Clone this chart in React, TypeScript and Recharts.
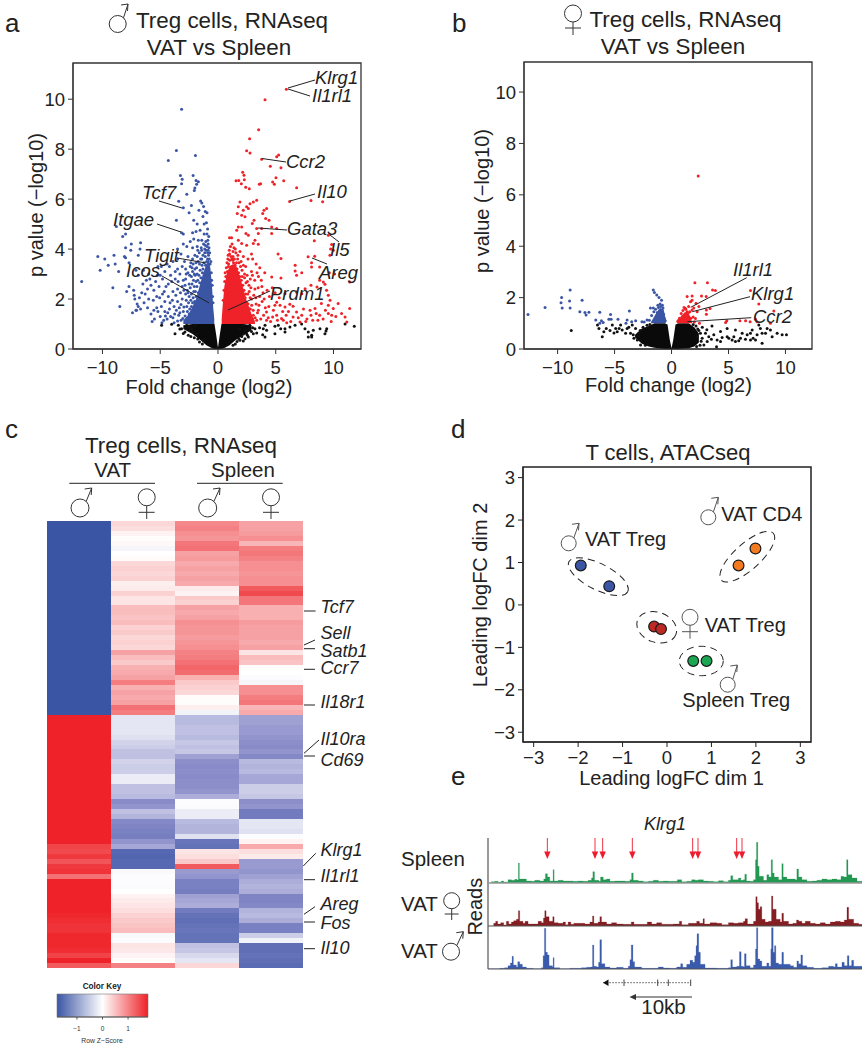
import React from "react";
import {
  Area,
  AreaChart,
  Bar,
  BarChart,
  Cell,
  ComposedChart,
  ReferenceArea,
  Scatter,
  ScatterChart,
  XAxis,
  YAxis,
} from "recharts";

type P = [number, number];

// panel a
const aBlue: P[] = [
  [-3.15,9.6],[-3.6,7.95],[-1.95,7.75],[-4.3,7.55],[-3.25,6.95],[-2.15,6.95],[-3.1,6.8],[-3.15,6.62],[-1.9,6.75],[-1.7,6.7],[-1.85,6.6],[-2.0,6.45],[-2.7,6.2],[-2.05,6.35],[-3.4,5.92],[-1.5,5.93],[-3.0,5.65],[-1.4,5.85],[-1.25,5.7],[-2.3,5.75],[-2.5,5.45],[-1.65,5.55],[-1.1,5.5],[-1.3,5.3],[-0.95,5.45],[-2.1,5.15],[-3.6,5.15],[-1.8,5.0],[-1.2,5.0],[-1.0,5.05],[-0.9,4.8],[-3.15,4.65],[-3.0,4.6],[-2.2,4.65],[-1.9,4.7],[-1.55,4.75],[-1.2,4.6],[-0.95,4.6],[-0.8,4.5],[-2.1,4.4],[-2.4,4.3],[-1.7,4.35],[-1.4,4.35],[-1.05,4.3],[-0.85,4.2],[-3.5,4.0],[-3.0,4.2],[-2.7,4.1],[-2.2,4.05],[-1.8,4.1],[-1.45,4.05],[-1.15,4.0],[-0.85,3.95],
  [-11.8,2.7],[-10.4,3.7],[-9.8,3.6],[-10.2,3.15],[-9.5,3.35],[-9.0,3.75],[-8.9,3.4],[-9.1,2.45],[-8.6,3.1],[-8.5,1.7],[-8.8,4.9],[-8.25,4.5],[-8.0,4.6],[-8.0,4.05],[-7.5,4.2],[-8.1,3.7],[-7.55,3.95],[-8.0,3.65],[-7.7,3.45],[-6.9,3.75],[-6.7,4.25],[-6.75,4.0],[-7.9,2.3],[-7.7,2.5],[-7.3,2.35],[-7.25,2.15],[-7.1,1.55],[-6.9,1.7],[-6.8,2.05],
  [-6.0,3.0],[-6.2,2.75],[-6.5,2.6],[-6.9,2.95],[-6.1,2.4],[-5.8,2.55],[-5.4,2.7],[-5.1,2.5],[-5.0,2.95],[-4.6,3.1],[-4.2,3.3],[-3.9,3.5],[-3.5,3.6],[-3.2,3.8],[-2.9,3.5],[-2.6,3.7],[-2.4,3.3],[-2.2,3.6],[-2.0,3.2],[-1.8,3.7],[-3.3,3.0],[-3.7,2.8],[-4.0,2.7],[-4.5,2.5],[-4.8,2.2],[-5.3,2.1],[-5.6,1.95],[-6.0,2.0],[-6.4,1.85],[-6.7,1.6],[-7.0,1.8],[-7.2,2.0],[-7.4,1.45],[-7.05,1.55],[-5.7,1.1],[-5.5,1.2],[-5.2,1.5],[-4.9,1.7],[-4.6,1.9],[-4.3,2.1],[-3.9,2.3],[-3.5,2.4],[-3.1,2.5],[-2.8,2.8],[-2.5,2.6],[-2.3,2.9],[-4.6,1.5],[-4.2,1.6],[-3.8,1.7],[-3.5,1.9],[-3.1,2.0],[-2.8,2.2],[-2.5,2.1],[-3.9,1.25],[-3.4,1.35],[-3.0,1.5],[-2.7,1.7],[-2.5,1.4],[-3.2,1.15],[-4.4,1.2],[-2.3,1.7],[-2.1,2.3],[-1.9,2.7],[-2.1,1.2],[-1.8,3.0],[-1.6,3.4],[-1.4,3.6],[-1.1,3.7],[-0.9,3.6],[-1.3,3.2],[-2.8,3.2],[-2.2,3.1],[-3.5,3.2],[-4.4,3.4],[-4.8,2.8],[-6.6,2.25],[-5.2,3.3],
  [-3.8,1.05],[-3.5,1.12],[-3.3,1.45],[-3.05,1.22],[-2.95,1.68],[-2.85,1.32],[-2.75,1.95],[-2.65,1.5],[-2.6,2.25],[-2.55,1.85],[-2.45,1.6],[-2.4,2.45],[-2.35,1.95],[-2.3,2.2],[-2.25,2.6],[-2.2,1.85],[-2.15,2.05],[-2.12,2.75],[-2.05,2.5],[-2.02,1.9],[-1.98,2.95],[-1.95,2.3],[-1.9,2.1],[-1.85,3.25],[-1.82,2.5],[-1.75,2.75],[-1.72,3.5],[-1.7,2.25],[-1.65,2.95],[-1.62,3.85],[-1.58,2.65],[-1.55,3.15],[-1.5,3.6],[-1.48,2.85],[-1.42,3.95],[-1.38,3.35],[-1.35,3.05],[-1.3,3.75],[-1.25,4.2],[-1.22,3.45],[-1.18,2.95],[-1.15,3.85],[-1.1,4.15],[-1.08,3.35],[-1.02,3.95],[-0.98,3.5],[-0.95,4.1],[-0.9,3.85],[-0.88,4.35],[-0.82,3.75],[-0.78,4.05],[-0.75,3.6],[-0.72,3.85],[-0.68,3.4],[-0.62,3.5],[-0.58,3.05],[-0.55,2.75],[-0.5,2.55],[-0.47,2.1],[-0.43,1.85],
  [-4.7,1.15],[-4.55,1.32],[-4.35,1.45],[-4.15,1.85],[-4.1,1.3],[-3.95,1.95],[-3.75,1.4],[-3.65,2.15],[-3.6,1.55],[-3.45,2.7],[-3.35,1.65],[-3.25,2.25],[-3.2,1.78],[-3.0,2.75],[-2.95,2.35],[-2.85,2.55],[-2.75,3.0],[-2.65,2.35],[-2.6,3.05],[-2.45,2.95],[-2.35,3.45],[-2.25,3.25],[-2.15,3.4],[-2.0,3.75],[-1.9,3.45],[-1.75,3.95],[-2.05,3.0],[-3.1,3.3],[-3.7,3.1],[-4.1,2.95],[-4.3,2.6],[-4.65,2.3],[-5.05,2.05],[-5.3,1.65],[-5.55,1.55],[-5.8,1.4],[-5.0,1.3],[-4.85,1.05],[-6.1,1.65],[-6.3,2.2],[-5.55,2.35],[-5.9,2.8],[-5.25,2.95],[-4.9,3.3],[-6.45,3.15],[-7.1,3.15],
];
const aRed: P[] = [
  [5.92,10.4],[4.07,9.98],[3.52,8.78],[2.74,8.42],[2.48,7.94],[2.77,7.85],[3.78,7.6],[5.25,7.77],[5.08,7.7],[5.45,7.26],[4.53,7.32],[5.02,6.86],[5.69,6.74],[4.73,6.69],[4.88,6.6],[6.81,6.46],[2.14,7.08],[2.25,6.96],[1.56,6.74],[1.8,6.75],[2.28,6.78],[2.02,6.62],[2.4,6.48],[2.71,6.42],[3.58,6.6],[3.69,6.62],[6.2,5.91],[8.05,5.95],[9.06,5.9],[3.35,5.96],[3.06,5.89],[2.77,5.82],[2.48,5.69],[2.19,5.55],[1.9,5.89],[1.76,5.69],[1.67,5.42],[2.05,5.35],[2.34,5.29],[2.63,5.62],[3.98,5.55],[4.21,5.62],[3.87,5.42],[4.13,5.22],[4.42,5.15],[3.12,5.15],[2.97,5.02],[1.76,4.88],[1.62,4.75],[2.05,4.88],[2.42,4.62],[2.63,4.55],[3.35,4.82],[3.49,4.62],[3.2,4.35],[1.0,4.45],[1.18,4.45],[1.76,4.35],[2.05,4.22],[2.48,4.15],[3.06,4.22],[3.49,4.19],[3.78,4.82],[4.65,4.88],[5.08,4.82],[4.65,4.62],[8.34,4.33],[9.55,4.55],[9.84,4.18],[9.75,4.0],[9.98,3.95],[9.69,3.75],[7.8,3.69],[8.37,3.71],[5.2,3.8],[5.45,3.62],[6.68,3.35],[6.68,3.12],[7.25,3.05],[6.8,2.95],[8.1,3.45],[8.1,3.28],[8.8,3.28],[9.64,3.05],[10.1,3.0],[11.4,2.68],[4.65,2.88],[5.45,2.84],[8.8,2.75],[9.12,2.68],[9.26,2.59],[8.05,2.55],[8.57,2.48],[9.4,2.35],[9.55,2.15],[9.7,1.95],[7.54,2.41],[7.25,2.21],[6.8,2.28],[5.8,2.21],[5.08,1.87],[4.93,1.75],[5.37,1.75],[5.8,1.68],[6.22,1.79],[6.5,1.71],[6.8,1.48],[6.5,1.28],[7.25,1.35],[7.97,1.55],[8.4,1.62],[8.95,1.82],[9.55,1.75],[10.4,1.82],[9.98,1.62],[11.4,1.62],[9.55,1.42],[9.84,1.35],[8.8,1.35],[8.5,1.42],[8.05,1.35],[10.7,1.42],[11.0,1.28],[11.15,1.08],[5.9,1.35],[5.5,1.22],[5.08,1.35],[4.73,1.28],[4.2,1.48],[3.49,1.55],[3.06,1.35],[3.35,1.15],[4.2,1.15],[7.7,1.2],[7.1,1.08],[5.65,1.15],
  [3.0,3.6],[3.3,3.4],[2.9,3.1],[3.5,2.9],[3.8,2.5],[2.8,2.8],[3.2,2.4],[4.0,2.0],[3.6,2.1],[2.9,2.0],[2.7,2.3],[3.3,1.8],[2.8,1.6],[4.4,1.7],[3.0,1.2],[2.6,1.8],[2.4,3.3],[2.2,3.7],[2.6,3.6],[1.9,3.9],[1.3,3.7],[1.0,3.8],[1.5,4.0],[0.9,3.3],[0.85,3.6],[1.3,3.9],[2.3,3.0],[2.55,2.7],[1.2,3.6],[1.7,3.6],[2.0,3.5],[2.9,3.8],[2.1,2.9],[2.4,2.2],[2.6,1.5],[2.3,1.3],
  [0.45,1.95],[0.52,2.35],[0.58,2.7],[0.62,3.05],[0.68,2.9],[0.72,3.25],[0.78,3.45],[0.82,3.1],[0.88,3.75],[0.92,3.4],[0.98,3.95],[1.02,3.55],[1.08,4.1],[1.12,3.7],[1.18,3.3],[1.22,4.2],[1.28,3.55],[1.35,3.45],[1.38,4.05],[1.42,3.6],[1.48,3.35],[1.55,3.85],[1.6,3.45],[1.65,3.2],[1.72,3.75],[1.78,3.05],[1.82,3.45],[1.88,2.9],[1.95,3.3],[2.02,2.75],[2.08,3.15],[2.15,2.55],[2.2,3.35],[2.25,2.35],[2.3,2.85],[2.35,2.05],[2.42,2.65],[2.48,1.85],[2.52,2.95],[2.58,2.2],[2.62,1.65],[2.68,2.55],[2.72,1.35],[2.78,2.05],[2.85,2.45],[2.92,1.75],[2.98,2.95],[3.05,1.55],[3.1,2.15],[3.18,2.75],[3.22,1.25],[3.28,2.05],[3.38,3.05],[3.42,1.45],[3.48,2.45],[3.55,1.75],[3.62,3.25],[3.7,1.2],[3.75,2.75],[3.82,1.9],[3.9,2.25],[3.95,1.35],[4.05,3.05],[4.1,1.65],[4.25,2.35],[4.35,1.25],[4.45,2.1],[4.55,1.1],[4.7,2.45],[4.8,1.55],[4.95,2.25],[5.15,1.15],[5.3,2.05],[5.6,1.5],[5.95,1.05],[6.1,1.5],[6.3,1.1],[6.95,1.25],[7.4,1.6],[7.6,1.1],[8.2,1.15],[8.65,1.15],[9.1,1.2],[9.3,1.55],[9.8,1.1],[10.2,1.3],
];
const aBlack: P[] = [
  [-4.88,0.95],[-4.01,0.99],[-3.72,0.61],[-3.43,0.95],[-3.15,0.81],[-2.71,0.95],[-2.42,0.75],[-2.57,0.55],[-2.28,0.81],[-1.85,0.61],[-1.99,0.95],[-2.86,0.68],[-1.27,0.35],
  [-3.3,0.8],[-3.0,0.62],[-2.75,0.82],[-2.5,0.88],[-2.35,0.5],[-2.15,0.68],[-2.05,0.45],[-1.75,0.4],[-1.6,0.28],[-1.35,0.2],
  [1.9,0.81],[2.19,0.95],[2.63,0.81],[2.48,0.61],[2.34,0.41],[1.9,0.35],[3.2,0.81],[3.35,0.64],[3.92,0.81],[4.07,0.95],[4.21,0.75],[3.87,0.57],[4.07,0.48],[4.93,0.91],[5.22,0.95],[5.43,0.81],[5.8,0.68],[5.8,0.81],[6.23,0.88],[6.67,0.95],[7.24,1.0],[7.53,0.81],[7.82,0.68],[8.11,0.55],[8.25,0.75],[7.82,0.48],[8.11,0.48],[8.83,0.81],[9.26,0.61],[9.41,0.81],[9.35,0.72],[11.0,1.0],[11.8,0.91],[4.93,0.61],[3.06,0.61],[2.63,0.48],[2.19,0.32],[2.9,0.7],[3.6,0.85],
  [1.65,0.3],[1.78,0.42],[2.05,0.5],[2.2,0.6],[2.35,0.75],[2.55,0.55],[2.75,0.95],[3.0,0.85],[1.5,0.2],[1.3,0.15],
];
// dense parts of the cloud, as low/high bands over fold change
const aBlackBand = [
  { x: -3, band: [0.8, 0.95] }, { x: -2.2, band: [0.6, 1] }, { x: -1.5, band: [0.35, 1] }, { x: -1, band: [0.15, 1] }, { x: -0.6, band: [0.05, 1] }, { x: -0.3, band: [0, 1] }, { x: -0.15, band: [0, 0.55] }, { x: 0, band: [0, 0.05] },
  { x: 0.15, band: [0, 0.55] }, { x: 0.3, band: [0, 1] }, { x: 0.6, band: [0.05, 1] }, { x: 1, band: [0.15, 1] }, { x: 1.5, band: [0.35, 1] }, { x: 2.2, band: [0.55, 1] }, { x: 2.9, band: [0.75, 0.95] },
];
const aBlueBand = [
  { x: -3.0, band: [1, 1.15] }, { x: -2.6, band: [1, 1.35] }, { x: -2.2, band: [1, 1.7] }, { x: -1.9, band: [1, 2.0] }, { x: -1.6, band: [1, 2.5] }, { x: -1.3, band: [1, 3.0] }, { x: -1.0, band: [1, 3.4] }, { x: -0.8, band: [1, 3.6] }, { x: -0.65, band: [1, 3.2] }, { x: -0.5, band: [1, 2.4] }, { x: -0.42, band: [1, 1.7] }, { x: -0.32, band: [1, 1.2] },
];
const aRedBand = [
  { x: 0.32, band: [1, 1.2] }, { x: 0.42, band: [1, 1.8] }, { x: 0.55, band: [1, 2.5] }, { x: 0.75, band: [1, 3.0] }, { x: 1.0, band: [1, 3.3] }, { x: 1.3, band: [1, 3.4] }, { x: 1.6, band: [1, 3.3] }, { x: 1.9, band: [1, 2.9] }, { x: 2.2, band: [1, 2.4] }, { x: 2.5, band: [1, 1.9] }, { x: 2.9, band: [1, 1.4] }, { x: 3.2, band: [1, 1.1] },
];

// panel b
const bBlue: P[] = [
  [-12.6,1.34],[-11.1,1.62],[-9.65,2.0],[-9.7,1.8],[-9.6,1.6],[-8.9,2.3],[-8.95,1.87],[-8.9,1.6],[-7.85,1.9],[-8.05,1.45],[-7.6,1.42],[-7.5,1.32],[-7.25,1.43],[-6.3,1.43],[-6.3,1.0],[-6.65,1.13],[-6.15,1.1],[-6.0,1.03],[-5.35,1.34],[-5.3,1.16],[-5.5,1.16],[-4.7,1.16],[-3.7,1.48],[-3.9,1.13],[-3.5,1.06],[-3.15,1.1],[-4.0,1.0],[-2.6,1.06],[-2.15,1.13],[-1.6,2.3],[-1.5,2.2],[-1.3,2.1],[-1.1,2.0],[-0.88,1.9],[-1.85,1.6],[-1.6,1.6],[-1.2,1.7],[-0.8,1.7],[-1.0,1.75],[-0.75,1.6],
  [-1.75,1.3],[-1.55,1.45],[-1.4,1.55],[-1.25,1.42],[-1.15,1.62],[-1.05,1.5],[-0.95,1.65],[-0.85,1.45],[-0.7,1.35],[-0.65,1.2],[-0.55,1.1],[-1.95,1.12],[-2.4,1.05],
];
const bRed: P[] = [
  [2.34,6.73],[2.05,2.58],[3.15,2.58],[3.6,2.3],[3.85,2.28],[1.37,2.04],[1.81,2.06],[2.63,2.06],[3.04,2.04],[1.8,1.9],[1.67,1.84],[6.93,2.28],[7.66,1.75],[8.98,1.48],[8.68,1.0],[2.15,1.78],[2.4,1.65],[1.95,1.6],[1.5,1.65],[3.06,1.52],[3.38,1.58],[3.06,1.35],[2.25,1.45],[1.8,1.52],[1.37,1.45],[1.22,1.58],[0.93,1.26],[0.64,1.13],[2.1,1.19],[2.45,1.0],[4.75,1.03],[4.85,1.1],[6.0,1.1],[6.5,1.1],[6.9,1.06],[7.37,1.16],[7.5,1.06],
  [0.7,1.2],[0.85,1.38],[1.0,1.5],[1.1,1.62],[1.25,1.55],[1.45,1.38],[1.6,1.45],[1.7,1.2],[1.9,1.25],[2.0,1.05],[0.55,1.08],
];
const bBlack: P[] = [
  [-8.8,0.72],[-6.5,0.93],[-6.37,0.8],[-6.08,0.48],[-5.94,0.67],[-5.73,0.8],[-5.2,0.93],[-4.9,0.8],[-4.77,0.67],[-4.47,0.93],[-4.33,0.74],[-4.6,0.8],[-4.03,0.61],[-3.9,0.8],[-3.6,0.61],[-3.45,0.93],[-3.3,0.42],[-3.16,0.8],[-3.36,0.55],[-3.0,0.35],[-2.72,0.16],[-2.87,0.61],[-5.4,0.72],[-5.05,0.62],[-3.75,0.85],
  [-2.9,0.5],[-2.75,0.72],[-2.5,0.85],[-2.3,0.15],[-2.15,0.92],[-1.9,0.95],[1.9,0.95],[2.15,0.9],[2.4,0.72],[2.6,0.3],[2.5,0.15],[2.2,0.1],
  [2.25,0.48],[2.54,0.61],[2.69,0.42],[2.98,0.61],[3.13,0.29],[3.27,0.48],[3.5,0.38],[3.71,0.55],[3.95,0.09],[4.0,0.35],[4.3,0.68],[4.44,0.45],[4.88,0.8],[5.03,0.42],[5.32,0.35],[5.47,0.48],[5.61,0.74],[5.9,0.32],[6.05,0.42],[6.2,0.61],[6.49,0.38],[6.64,0.55],[6.93,0.35],[7.08,0.74],[7.16,0.42],[7.37,0.35],[7.66,0.93],[7.8,0.8],[7.95,0.61],[8.25,0.61],[8.39,0.8],[7.95,0.22],[8.68,0.74],[8.83,0.48],[9.27,0.61],[9.71,0.55],[10.09,0.55],[6.93,0.61],[7.51,0.55],[5.61,0.29],[4.88,0.48],[4.3,0.29],[2.84,0.16],[2.7,0.85],[3.1,0.75],[3.55,0.9],[2.3,0.78],
];
const bBlackBand = [
  { x: -3.2, band: [0.45, 0.55] }, { x: -2.6, band: [0.2, 0.8] }, { x: -2, band: [0.1, 0.9] }, { x: -1.5, band: [0.05, 1] }, { x: -0.6, band: [0, 1] }, { x: -0.35, band: [0, 0.95] }, { x: -0.15, band: [0, 0.35] }, { x: 0, band: [0, 0.03] },
  { x: 0.15, band: [0, 0.35] }, { x: 0.35, band: [0, 0.95] }, { x: 0.6, band: [0, 1] }, { x: 1.5, band: [0.03, 1] }, { x: 2, band: [0.1, 0.85] }, { x: 2.4, band: [0.25, 0.6] },
];
const bBlueBand = [
  { x: -1.8, band: [1, 1.05] }, { x: -1.4, band: [1, 1.35] }, { x: -1, band: [1, 1.6] }, { x: -0.7, band: [1, 1.55] }, { x: -0.5, band: [1, 1.15] },
];
const bRedBand = [
  { x: 0.5, band: [1, 1.05] }, { x: 0.9, band: [1, 1.3] }, { x: 1.2, band: [1, 1.45] }, { x: 1.6, band: [1, 1.3] }, { x: 1.8, band: [1, 1.05] },
];
const foldTicks = [-10, -5, 0, 5, 10];
const pTicks = [0, 2, 4, 6, 8, 10];

// panel c, row z-scores per column, top to bottom
const zMaleVat = [
  -1.8,-1.8,-1.8,-1.8,-1.8,-1.8,-1.8,-1.8,-1.8,-1.8,-1.8,-1.8,-1.8,-1.8,-1.8,-1.8,-1.8,-1.8,-1.8,-1.8,-1.8,-1.8,-1.8,-1.8,-1.8,-1.8,-1.8,-1.8,-1.8,-1.8,-1.8,-1.8,-1.8,-1.8,-1.8,-1.8,-1.8,-1.8,-1.8,
  1.8,1.8,1.8,1.8,1.8,1.8,1.8,1.8,1.8,1.8,1.8,1.8,1.8,1.8,1.8,1.8,1.8,1.8,1.8,1.8,1.8,1.8,1.8,1.8,1.8,1.8,1.5,1.45,1.6,1.35,1.6,1.65,1.1,1.8,1.8,1.8,1.8,1.8,1.8,1.8,1.75,1.7,1.65,1.65,1.75,1.75,1.75,1.7,1.5,1.8,1.3,
];
const zFemaleVat = [
  0.3,0.25,0.1,0.02,0.05,-0.08,0.0,0.03,0.3,0.35,0.3,0.35,0.12,0.15,0.35,0.2,0.2,0.5,0.5,0.45,0.5,0.35,0.4,0.3,0.35,0.3,0.7,0.5,0.4,0.6,0.65,0.7,1.0,0.6,0.7,0.65,0.7,1.1,1.0,
  -0.2,-0.2,-0.2,-0.2,-0.25,-0.35,-0.4,-0.5,-0.5,-0.35,-0.4,-0.4,-0.15,-0.15,-0.5,-0.5,-0.55,-0.95,-0.85,-0.5,-0.6,-1.0,-1.05,-1.1,-1.15,-0.85,-0.7,-1.5,-1.55,-1.5,-1.5,-0.05,-0.02,-0.02,-0.03,0,0.1,0.15,0.2,0.25,0.35,0.4,0.45,0.5,-0.05,-0.02,0.2,0.18,0.08,0.02,0.95,
];
const zMaleSpleen = [
  0.9,0.95,0.85,0.8,1.05,1.1,0.7,0.75,0.65,0.7,0.65,0.7,0.65,0.15,0.1,0.4,0.35,0.7,0.65,0.7,0.85,0.8,0.8,0.75,0.8,0.85,0.95,1.0,1.1,1.2,1.15,0.6,0.4,0.35,0.3,0.03,0.02,0.12,-0.1,
  -0.55,-0.55,-0.5,-0.5,-0.55,-0.45,-0.5,-0.45,-0.75,-0.9,-0.95,-0.9,-0.95,-0.9,-0.9,-0.85,-0.65,-0.02,-0.03,-0.15,-0.15,-0.55,-0.6,-0.6,-0.25,-1.3,-1.35,0.2,0.25,0.4,1.3,-0.8,-0.85,-1.1,-1.1,-1.15,-0.75,-0.7,-0.65,-1.2,-1.35,-1.4,-1.35,-1.3,-1.35,-1.35,-0.5,-0.45,-0.3,-0.2,0.3,
];
const zFemaleSpleen = [
  0.7,0.7,0.75,0.85,0.55,1.0,1.05,0.95,0.85,0.85,0.8,0.85,0.85,1.3,1.45,1.05,1.05,0.6,0.6,0.6,0.75,0.7,0.7,0.7,0.65,0.7,0.2,0.5,0.45,0.02,0.0,-0.02,-0.08,0.85,0.85,1.0,1.05,0.55,0.65,
  -0.75,-0.75,-0.8,-0.8,-0.85,-0.9,-0.95,-0.85,-1.0,-0.55,-0.6,-0.55,-0.7,-0.7,-0.4,-0.4,-0.45,-0.9,-0.85,-1.2,-1.2,-0.2,-0.2,-0.25,-0.02,0.1,0.65,0.25,0.15,-0.8,-0.8,-0.85,-0.75,-0.65,-0.6,-0.65,-1.05,-1.05,-1.0,-0.6,-0.55,-0.65,-1.1,-1.1,-0.4,-0.1,-1.4,-1.4,-1.35,-1.4,-1.45,
];
const heatColumns = [zMaleVat, zFemaleVat, zMaleSpleen, zFemaleSpleen];
const keyTicks = [-1, 0, 1];

// panel d
const ptVatTregMale: P[] = [[-1.94,0.93],[-1.3,0.44]];
const ptVatCd4: P[] = [[1.61,0.93],[1.99,1.33]];
const ptVatTregFemale: P[] = [[-0.29,-0.51],[-0.135,-0.57]];
const ptSpleenTreg: P[] = [[0.59,-1.32],[0.89,-1.32]];
const dimTicks = [-3, -2, -1, 0, 1, 2, 3];

// panel e, read height against position along the locus
const spleenReads: P[] = [
  [265,0],[275,4],[285,5],[295,3],[305,6],[312,3],[325,10],[335,8],[345,11],[352,9],[356,60],[359,12],[370,12],[380,6],[395,5],[405,8],[420,6],[432,12],[437,28],[443,18],[450,6],[458,6],[460,40],[463,6],[475,8],[490,6],[505,6],[520,5],[535,6],[550,5],[565,8],[575,15],[579,34],[584,8],[597,5],[602,18],[610,10],[620,12],[630,5],[645,6],[660,6],[675,5],[690,10],[695,30],[700,8],[715,6],[730,4],[745,5],[760,8],[775,5],[790,6],[805,5],[820,5],[832,10],[845,4],[860,5],[875,10],[885,8],[895,10],[910,6],[925,5],[940,4],[955,7],[970,4],[985,8],[992,22],[998,10],[1015,15],[1022,8],[1030,10],[1034,26],[1039,6],[1050,5],[1060,10],[1066,70],[1069,122],[1073,50],[1077,20],[1090,8],[1100,25],[1106,18],[1113,70],[1117,30],[1122,18],[1135,10],[1145,58],[1149,18],[1160,12],[1175,12],[1185,10],[1190,42],[1195,18],[1205,10],[1220,5],[1235,6],[1250,8],[1265,12],[1280,10],[1295,12],[1310,10],[1322,20],[1330,18],[1339,70],[1343,25],[1355,15],[1370,5],[1385,8],
];
const femaleVatReads: P[] = [
  [265,0],[282,8],[288,14],[294,6],[303,10],[312,3],[320,14],[327,6],[335,12],[342,16],[350,20],[356,46],[360,14],[370,8],[376,14],[385,6],[400,6],[415,14],[425,10],[431,24],[435,46],[439,28],[448,14],[459,28],[463,10],[475,8],[490,12],[497,4],[505,12],[513,5],[522,8],[540,8],[555,6],[570,12],[578,30],[582,8],[595,12],[600,28],[605,12],[620,6],[635,10],[650,6],[670,5],[694,12],[702,5],[725,5],[742,12],[755,6],[770,10],[785,5],[800,5],[820,6],[838,14],[845,4],[865,8],[880,8],[890,14],[898,8],[909,22],[913,6],[930,10],[950,8],[965,4],[985,10],[1000,8],[1015,10],[1030,14],[1035,22],[1042,6],[1060,14],[1067,88],[1071,70],[1075,50],[1080,58],[1085,20],[1095,12],[1105,14],[1114,90],[1118,50],[1123,50],[1128,20],[1140,12],[1145,38],[1150,14],[1165,6],[1178,8],[1189,18],[1195,14],[1205,8],[1215,14],[1230,8],[1245,6],[1260,10],[1275,6],[1290,12],[1305,14],[1320,12],[1332,18],[1340,56],[1345,20],[1360,8],[1375,5],[1385,6],
];
const maleVatReads: P[] = [
  [265,1],[300,2],[315,4],[325,10],[332,18],[337,38],[341,12],[350,6],[354,22],[360,14],[368,6],[380,2],[400,1],[425,4],[430,40],[434,122],[438,50],[443,42],[448,10],[458,6],[460,34],[463,4],[480,1],[510,2],[530,2],[545,4],[560,5],[572,6],[578,72],[582,8],[590,6],[596,20],[600,88],[605,16],[615,6],[630,3],[650,5],[670,2],[685,8],[690,28],[694,72],[699,22],[704,6],[725,2],[750,2],[775,6],[790,3],[810,2],[830,6],[842,16],[848,5],[860,14],[870,26],[878,20],[884,40],[888,70],[891,106],[896,50],[901,14],[915,3],[950,2],[985,4],[992,28],[997,6],[1010,8],[1018,52],[1023,8],[1030,6],[1033,46],[1038,10],[1050,4],[1060,12],[1066,60],[1069,124],[1073,30],[1079,24],[1085,8],[1100,18],[1106,8],[1112,60],[1114,124],[1119,50],[1123,70],[1127,18],[1135,14],[1145,50],[1150,14],[1160,14],[1170,10],[1180,5],[1190,24],[1195,16],[1202,42],[1207,10],[1220,5],[1240,2],[1265,4],[1285,8],[1300,6],[1305,16],[1311,6],[1325,20],[1332,10],[1341,40],[1346,10],[1354,26],[1360,8],[1385,2],
];
const arrowSites = [442, 585, 608, 697, 878, 894, 1010, 1026];

const FONT = '"Liberation Sans", Arial, sans-serif';
const INK = "#222";
const BLUE = "#3b55a5";
const RED = "#ee2228";

const minus = (v: number) => String(v).replace("-", "\u2212");
const toRows = (pts: P[]) => pts.map(([x, y]) => ({ x, y }));

function dot(fill: string, r = 1.5, stroke = "none") {
  return (p: any) => <circle cx={p.cx} cy={p.cy} r={r} fill={fill} stroke={stroke} strokeWidth={1.2} />;
}

// color ramp of the heat map
function zColor(z: number) {
  const t = Math.min(1, Math.abs(z) / 1.8);
  const mid = z < 0 ? [140, 142, 202] : [244, 136, 138];
  const end = z < 0 ? [59, 85, 165] : [238, 34, 40];
  const c = [0, 1, 2].map((i) =>
    Math.round(t < 0.5 ? 255 + (mid[i] - 255) * t * 2 : mid[i] + (end[i] - mid[i]) * (t - 0.5) * 2),
  );
  return `rgb(${c[0]},${c[1]},${c[2]})`;
}

function Volcano(props: {
  left: number; top: number; width: number; height: number;
  margin: any; yWidth: number; xHeight: number;
  xDomain: number[]; yDomain: number[];
  blackBand: any[]; blueBand: any[]; redBand: any[];
  black: P[]; blue: P[]; red: P[];
}) {
  const { margin, xDomain, yDomain } = props;
  const tick = { fill: INK, fontSize: 18.5 };
  return (
    <div style={{ position: "absolute", left: props.left, top: props.top }}>
      <ComposedChart width={props.width} height={props.height} margin={margin}>
        <XAxis type="number" dataKey="x" domain={xDomain} ticks={foldTicks} interval={0} allowDataOverflow height={props.xHeight}
          tickFormatter={minus} tick={tick} tickSize={5} tickMargin={7} stroke="#333" />
        <YAxis type="number" dataKey="y" domain={yDomain} ticks={pTicks} interval={0} allowDataOverflow width={props.yWidth}
          tick={tick} tickSize={5} tickMargin={3} stroke="#333" />
        <ReferenceArea x1={xDomain[0]} x2={xDomain[1]} y1={yDomain[0]} y2={yDomain[1]} fill="none" fillOpacity={0} stroke="#333" strokeWidth={1.3} />
        <Area data={props.blackBand} dataKey="band" stroke="none" fill="#0a0a0a" fillOpacity={1} isAnimationActive={false} dot={false} activeDot={false} />
        <Scatter data={toRows(props.black)} dataKey="y" shape={dot("#111")} isAnimationActive={false} />
        <Area data={props.blueBand} dataKey="band" stroke="none" fill={BLUE} fillOpacity={1} isAnimationActive={false} dot={false} activeDot={false} />
        <Scatter data={toRows(props.blue)} dataKey="y" shape={dot(BLUE)} isAnimationActive={false} />
        <Area data={props.redBand} dataKey="band" stroke="none" fill={RED} fillOpacity={1} isAnimationActive={false} dot={false} activeDot={false} />
        <Scatter data={toRows(props.red)} dataKey="y" shape={dot(RED)} isAnimationActive={false} />
      </ComposedChart>
    </div>
  );
}

function Heatmap() {
  const rows = zMaleVat.map((_, i) => ({ row: i, c0: 1, c1: 1, c2: 1, c3: 1 }));
  return (
    <div style={{ position: "absolute", left: 47, top: 521, shapeRendering: "crispEdges" }}>
      <BarChart width={256} height={447} data={rows} layout="vertical" barCategoryGap={0} margin={{ top: 0, right: 0, bottom: 0, left: 0 }}>
        <XAxis type="number" domain={[0, 4]} hide />
        <YAxis type="category" dataKey="row" hide />
        {heatColumns.map((col, c) => (
          <Bar key={c} dataKey={`c${c}`} stackId="heat" isAnimationActive={false}>
            {col.map((z, i) => (
              <Cell key={i} fill={zColor(z)} />
            ))}
          </Bar>
        ))}
      </BarChart>
    </div>
  );
}

function ColorKey() {
  return (
    <div style={{ position: "absolute", left: 47, top: 990 }}>
      <ComposedChart width={111} height={45} data={[{ x: 0, y: 0 }]} margin={{ top: 4, right: 10, bottom: 0, left: 10 }}>
        <defs>
          <linearGradient id="keyRamp" x1="0" x2="1" y1="0" y2="0">
            <stop offset="0%" stopColor={BLUE} />
            <stop offset="50%" stopColor="#fff" />
            <stop offset="100%" stopColor={RED} />
          </linearGradient>
        </defs>
        <XAxis type="number" dataKey="x" domain={[-1.78, 1.78]} ticks={keyTicks} interval={0} allowDataOverflow height={18}
          tickFormatter={minus} tick={{ fontSize: 6.5, fill: "#333" }} tickSize={2.5} tickMargin={7} stroke="#555" />
        <YAxis type="number" dataKey="y" domain={[0, 1]} hide />
        <ReferenceArea x1={-1.78} x2={1.78} y1={0} y2={1} fill="url(#keyRamp)" fillOpacity={1} stroke="#777" strokeWidth={0.6} />
      </ComposedChart>
    </div>
  );
}

function Mds() {
  const tick = { fill: INK, fontSize: 18.5 };
  const groups: [P[], string][] = [
    [ptVatTregMale, BLUE],
    [ptVatCd4, "#f47a20"],
    [ptVatTregFemale, "#bd2a24"],
    [ptSpleenTreg, "#1ba651"],
  ];
  return (
    <div style={{ position: "absolute", left: 434, top: 450 }}>
      <ScatterChart width={390} height={320} margin={{ top: 17, right: 13, left: 0, bottom: 0 }}>
        <XAxis type="number" dataKey="x" domain={[-3.24, 3.24]} ticks={dimTicks} interval={0} allowDataOverflow height={28}
          tickFormatter={minus} tick={tick} tickSize={5} tickMargin={4} stroke="#222" />
        <YAxis type="number" dataKey="y" domain={[-3.23, 3.25]} ticks={dimTicks} interval={0} allowDataOverflow width={89}
          tickFormatter={minus} tick={tick} tickSize={5} tickMargin={3} stroke="#222" />
        <ReferenceArea x1={-3.24} x2={3.24} y1={-3.23} y2={3.25} fill="none" fillOpacity={0} stroke="#222" strokeWidth={1.5} />
        {groups.map(([pts, color], i) => (
          <Scatter key={i} data={toRows(pts)} shape={dot(color, 5.4, "#1a1a1a")} isAnimationActive={false} />
        ))}
      </ScatterChart>
    </div>
  );
}

function Track({ top, height, reads, color }: { top: number; height: number; reads: P[]; color: string }) {
  const rows = reads.map(([pos, h]) => ({ pos, h }));
  return (
    <div style={{ position: "absolute", left: 488, top }}>
      <AreaChart width={374} height={height} data={rows} margin={{ top: 0, right: 0, bottom: 0, left: 0 }}>
        <XAxis type="number" dataKey="pos" domain={[265, 1385]} hide />
        <YAxis type="number" domain={[0, height * 3]} hide allowDataOverflow />
        <Area type="stepAfter" dataKey="h" stroke={color} strokeOpacity={0.35} strokeWidth={0.6} fill={color} fillOpacity={0.95} isAnimationActive={false} dot={false} activeDot={false} />
      </AreaChart>
    </div>
  );
}

function Male({ cx, cy, r = 8.5, tx, ty, color = "#333" }: { cx: number; cy: number; r?: number; tx: number; ty: number; color?: string }) {
  return (
    <g fill="none" stroke={color} strokeWidth={1}>
      <circle cx={cx} cy={cy} r={r} fill="#fff" />
      <path d={`M${cx + r * 0.68} ${cy - r * 0.72}L${tx} ${ty}M${tx - 7} ${ty + 1}L${tx} ${ty}L${tx - 0.5} ${ty + 7}`} />
    </g>
  );
}

function Female({ cx, cy, r = 8.5, stem, bar, half = 8, color = "#333" }: { cx: number; cy: number; r?: number; stem: number; bar: number; half?: number; color?: string }) {
  return (
    <g fill="none" stroke={color} strokeWidth={1}>
      <circle cx={cx} cy={cy} r={r} fill="#fff" />
      <path d={`M${cx} ${cy + r}V${stem}M${cx - half} ${bar}H${cx + half}`} />
    </g>
  );
}

function Gene({ x, y, children, size = 18.5, anchor = "start" }: any) {
  return (
    <text x={x} y={y} fontSize={size} fontStyle="italic" textAnchor={anchor} fill={INK}>
      {children}
    </text>
  );
}

function Lead({ d }: { d: string }) {
  return <path d={d} fill="none" stroke="#222" strokeWidth={1} />;
}

function T({ x, y, size = 20, anchor = "start", children, rotate, weight, fill = INK }: any) {
  return (
    <text x={x} y={y} fontSize={size} textAnchor={anchor} fontWeight={weight} fill={fill}
      transform={rotate ? `rotate(${rotate} ${x} ${y})` : undefined}>
      {children}
    </text>
  );
}

function Overlay() {
  return (
    <svg width={868} height={1050} style={{ position: "absolute", left: 0, top: 0, pointerEvents: "none" }}>
      {/* panel letters */}
      <T x={5} y={32} size={26}>a</T>
      <T x={452} y={32} size={26}>b</T>
      <T x={5} y={438} size={26}>c</T>
      <T x={451} y={438} size={26}>d</T>
      <T x={451} y={785} size={26}>e</T>

      {/* a */}
      <T x={136} y={28} size={22.4}>Treg cells, RNAseq</T>
      <T x={219} y={55} size={22.4} anchor="middle">VAT vs Spleen</T>
      <Male cx={117.7} cy={24} tx={128} ty={4} />
      <T x={209} y={394} anchor="middle">Fold change (log2)</T>
      <T x={43} y={205} anchor="middle" rotate={-90}>p value (−log10)</T>
      <Gene x={315} y={84}>Klrg1</Gene>
      <Gene x={312} y={102}>Il1rl1</Gene>
      <Gene x={286} y={168}>Ccr2</Gene>
      <Gene x={317} y={198}>Il10</Gene>
      <Gene x={287} y={235}>Gata3</Gene>
      <Gene x={330} y={256}>Il5</Gene>
      <Gene x={319} y={279}>Areg</Gene>
      <Gene x={270} y={300}>Prdm1</Gene>
      <Gene x={142} y={199}>Tcf7</Gene>
      <Gene x={113} y={226}>Itgae</Gene>
      <Gene x={144} y={262}>Tigit</Gene>
      <Gene x={126} y={277}>Icos</Gene>
      <Lead d="M288 88L315 80M288 89L310 96M262 158.5L286 162M290 201L315 194M258 228L287 230M330 235L339 242M312 258L327 264M228 310L270 291M159 201L182 208M157 224L181 232M177 258L206 263M162 276L209 303" />

      {/* b */}
      <T x={589.5} y={27} size={22.4}>Treg cells, RNAseq</T>
      <T x={673} y={54} size={22.4} anchor="middle">VAT vs Spleen</T>
      <Female cx={573} cy={13.5} stem={35} bar={28} />
      <T x={668.5} y={392} anchor="middle">Fold change (log2)</T>
      <T x={489} y={201} anchor="middle" rotate={-90}>p value (−log10)</T>
      <Gene x={733} y={276}>Il1rl1</Gene>
      <Gene x={751} y={300}>Klrg1</Gene>
      <Gene x={753} y={323}>Ccr2</Gene>
      <Lead d="M690.7 307.3L746.7 277.7M692.3 311.7L750 296.7M687.3 321.7L751.3 317.7" />

      {/* c */}
      <T x={181} y={452.7} size={22.4} anchor="middle">Treg cells, RNAseq</T>
      <T x={112.7} y={476.7} size={20.5} anchor="middle">VAT</T>
      <T x={243} y={476.7} size={20.5} anchor="middle">Spleen</T>
      <Lead d="M69.3 483.3H155M197 483.3H282.7" />
      <Male cx={80} cy={508} r={9} tx={91.7} ty={488} />
      <Male cx={207.7} cy={508} r={9} tx={220} ty={488} />
      <Female cx={146.7} cy={497.3} stem={519} bar={512.3} />
      <Female cx={271} cy={497.3} stem={519} bar={512.3} />
      <Gene x={320.5} y={613} size={18}>Tcf7</Gene>
      <Gene x={320.5} y={639} size={18}>Sell</Gene>
      <Gene x={320.5} y={657} size={18}>Satb1</Gene>
      <Gene x={320.5} y={674} size={18}>Ccr7</Gene>
      <Gene x={320.5} y={708} size={18}>Il18r1</Gene>
      <Gene x={320.5} y={745} size={18}>Il10ra</Gene>
      <Gene x={320.5} y={766} size={18}>Cd69</Gene>
      <Gene x={320.5} y={856} size={18}>Klrg1</Gene>
      <Gene x={320.5} y={882} size={18}>Il1rl1</Gene>
      <Gene x={320.5} y={910} size={18}>Areg</Gene>
      <Gene x={320.5} y={929} size={18}>Fos</Gene>
      <Gene x={320.5} y={954} size={18}>Il10</Gene>
      <Lead d="M304 611H315.6M304 645L315 640M304 648.7H315M304 669.3H315M304 705H315M304 753.3L319 740M304 756H315M303.3 866L315.7 853.3M304 879.7H315M304 914.3L315 906.7M304 922H315M304 948.7H315" />
      <T x={102} y={989} size={8.2} anchor="middle" weight="bold">Color Key</T>
      <T x={102} y={1042.7} size={6.8} anchor="middle" fill="#333">Row Z−Score</T>

      {/* d */}
      <T x={668} y={460} size={22} anchor="middle">T cells, ATACseq</T>
      <T x={671.5} y={785} anchor="middle">Leading logFC dim 1</T>
      <T x={487} y={595} anchor="middle" rotate={-90}>Leading logFC dim 2</T>
      <T x={721.3} y={521}>VAT CD4</T>
      <T x={585} y={546}>VAT Treg</T>
      <T x={704.7} y={631.7}>VAT Treg</T>
      <T x={682.3} y={707.3}>Spleen Treg</T>
      <Male cx={708.3} cy={517.3} r={7.5} tx={718.3} ty={497.3} color="#555" />
      <Male cx={568.7} cy={543.3} r={7.5} tx={579} ty={523.3} color="#555" />
      <Male cx={727.7} cy={684.7} r={7.5} tx={737.3} ty={665} color="#555" />
      <Female cx={690} cy={617.3} r={8} stem={638.7} bar={631.7} color="#555" />
      <g fill="none" stroke="#222" strokeWidth={1} strokeDasharray="7 5">
        <ellipse cx={598.3} cy={576.7} rx={33} ry={13} transform="rotate(27 598.3 576.7)" />
        <ellipse cx={747.3} cy={556.7} rx={35} ry={13} transform="rotate(-42 747.3 556.7)" />
        <ellipse cx={656.7} cy={627.3} rx={20.5} ry={15} transform="rotate(20 656.7 627.3)" />
        <ellipse cx={701.3} cy={661} rx={22} ry={14.7} />
      </g>

      {/* e */}
      <Gene x={665} y={830} anchor="middle" size={18}>Klrg1</Gene>
      <T x={401} y={866} size={20.5}>Spleen</T>
      <T x={401} y={910.7} size={20.5}>VAT</T>
      <T x={401} y={957.7} size={20.5}>VAT</T>
      <T x={482} y={906.7} size={20} anchor="middle" rotate={-90}>Reads</T>
      <Female cx={451.7} cy={900.7} r={8} stem={920} bar={914} half={7} />
      <Male cx={451} cy={951.7} r={8.5} tx={463.3} ty={931.7} />
      <path d="M488 838V969" stroke="#555" strokeWidth={1.2} />
      <path d="M488 883H862" stroke="#999" strokeWidth={1.3} />
      <path d="M488 926H862" stroke="#555" strokeWidth={1} />
      <path d="M488 969H862" stroke="#555" strokeWidth={1} />
      {arrowSites.map((s) => {
        const x = 400 + s / 3;
        return (
          <g key={s}>
            <path d={`M${x} 838V853`} stroke="#ee3344" strokeWidth={1} />
            <path d={`M${x - 3.2} 851.5H${x + 3.2}L${x} 859Z`} fill="#ee1c2e" />
          </g>
        );
      })}
      <path d="M603.3 982.7H690.7" stroke="#555" strokeWidth={1} strokeDasharray="1.5 1.5" />
      <path d="M603 982.7L608.5 979.5V986Z" fill="#111" />
      <path d="M624 979.5V986M657.7 979.5V986M668.3 979.5V986M690.7 979.5V986" stroke="#333" strokeWidth={0.9} />
      <path d="M692 997H634" stroke="#333" strokeWidth={1.1} />
      <path d="M629.5 997L636 994V1000Z" fill="#333" />
      <T x={663.5} y={1014} size={20.5} anchor="middle">10kb</T>
    </svg>
  );
}

export default function App() {
  return (
    <div style={{ position: "absolute", left: 0, top: 0, width: 868, height: 1050, background: "#fff", fontFamily: FONT, overflow: "hidden" }}>
      <Volcano left={0} top={50} width={380} height={350} margin={{ top: 13, right: 19, left: 0, bottom: 0 }} yWidth={73} xHeight={51}
        xDomain={[-12.55, 12.38]} yDomain={[0, 11.45]}
        blackBand={aBlackBand} blueBand={aBlueBand} redBand={aRedBand} black={aBlack} blue={aBlue} red={aRed} />
      <Volcano left={434} top={50} width={398} height={350} margin={{ top: 12, right: 20, left: 0, bottom: 0 }} yWidth={90} xHeight={51}
        xDomain={[-12.95, 12.33]} yDomain={[0, 11.17]}
        blackBand={bBlackBand} blueBand={bBlueBand} redBand={bRedBand} black={bBlack} blue={bBlue} red={bRed} />
      <Heatmap />
      <ColorKey />
      <Mds />
      <Track top={838} height={45} reads={spleenReads} color="#16924a" />
      <Track top={883} height={43} reads={femaleVatReads} color="#7c1216" />
      <Track top={926} height={43} reads={maleVatReads} color="#2f52a8" />
      <Overlay />
    </div>
  );
}
